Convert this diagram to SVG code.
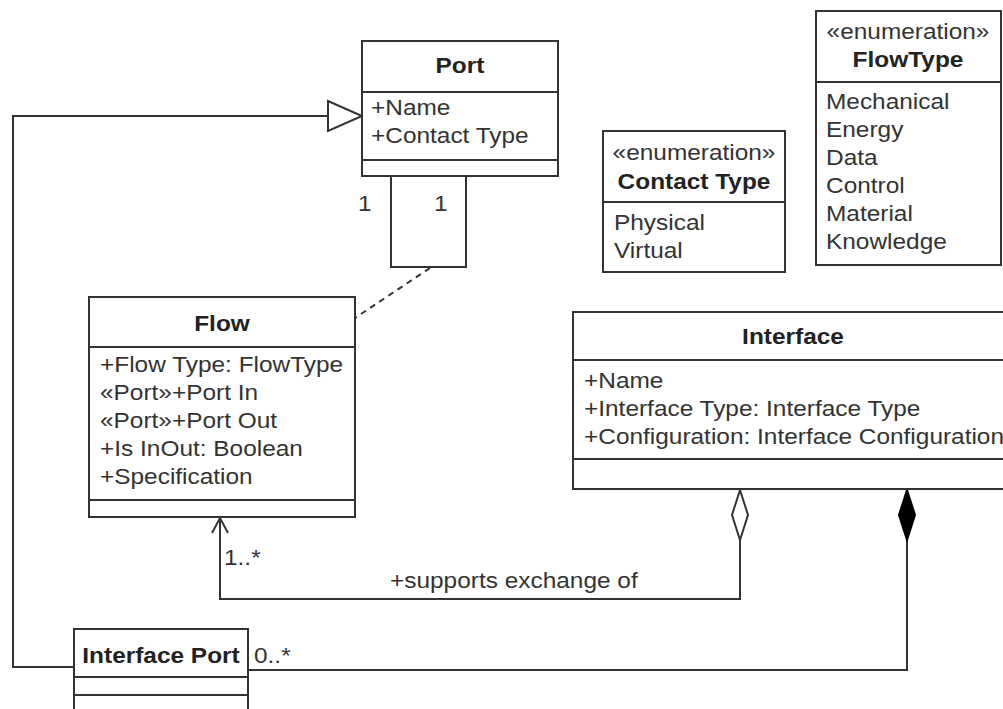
<svg xmlns="http://www.w3.org/2000/svg" width="1003" height="709" viewBox="0 0 1003 709">
<style>
.box{fill:#fff;stroke:#333;stroke-width:2}
.sep{stroke:#333;stroke-width:2}
.ln{fill:none;stroke:#333;stroke-width:2}
text{font-family:"Liberation Sans",Arial,sans-serif;font-size:22px;fill:#333}
.t{font-weight:bold;text-anchor:middle;fill:#222}
.c{text-anchor:middle}
</style>
<g id="connectors">
<polyline class="ln" points="74,667 13,667 13,116 328,116"/>
<polygon points="328,101 362,116 328,131" fill="#fff" stroke="#333" stroke-width="2"/>
<polyline class="ln" points="391,176 391,267 466,267 466,176"/>
<line x1="430" y1="268" x2="355" y2="318" stroke="#333" stroke-width="2" stroke-dasharray="6,5"/>
<polyline class="ln" points="740,540 740,599 220,599 220,518"/>
<polyline class="ln" points="212,533 220,518 228,533"/>
<polygon points="740,490 748,515 740,540 732,515" fill="#fff" stroke="#333" stroke-width="2"/>
<polyline class="ln" points="907,540 907,670 248,670"/>
<polygon points="907,490 915,515 907,540 899,515" fill="#000" stroke="#000" stroke-width="2"/>
<text transform="translate(358,211) scale(1.11,1)">1</text>
<text transform="translate(434,211) scale(1.11,1)">1</text>
<text transform="translate(224,565) scale(1.11,1)">1..*</text>
<text transform="translate(390,588) scale(1.11,1)">+supports exchange of</text>
<text transform="translate(254,663) scale(1.11,1)">0..*</text>
</g>
<g id="port">
<rect class="box" x="362" y="41" width="196" height="135"/>
<line class="sep" x1="362" y1="92" x2="558" y2="92"/>
<line class="sep" x1="362" y1="160" x2="558" y2="160"/>
<text class="t" transform="translate(460,73) scale(1.11,1)">Port</text>
<text transform="translate(371,115) scale(1.11,1)">+Name</text>
<text transform="translate(371,143) scale(1.11,1)">+Contact Type</text>
</g>
<g id="flow">
<rect class="box" x="89" y="297" width="266" height="220"/>
<line class="sep" x1="89" y1="347" x2="355" y2="347"/>
<line class="sep" x1="89" y1="500" x2="355" y2="500"/>
<text class="t" transform="translate(222,331) scale(1.11,1)">Flow</text>
<text transform="translate(100,372) scale(1.11,1)">+Flow Type: FlowType</text>
<text transform="translate(100,400) scale(1.11,1)">«Port»+Port In</text>
<text transform="translate(100,428) scale(1.11,1)">«Port»+Port Out</text>
<text transform="translate(100,456) scale(1.11,1)">+Is InOut: Boolean</text>
<text transform="translate(100,484) scale(1.11,1)">+Specification</text>
</g>
<g id="interface">
<rect class="box" x="573" y="312" width="440" height="177"/>
<line class="sep" x1="573" y1="360" x2="1013" y2="360"/>
<line class="sep" x1="573" y1="459" x2="1013" y2="459"/>
<text class="t" transform="translate(793,344) scale(1.11,1)">Interface</text>
<text transform="translate(584,388) scale(1.11,1)">+Name</text>
<text transform="translate(584,416) scale(1.11,1)">+Interface Type: Interface Type</text>
<text transform="translate(584,444) scale(1.11,1)">+Configuration: Interface Configuration</text>
</g>
<g id="interface-port">
<rect class="box" x="74" y="629" width="174" height="100"/>
<line class="sep" x1="74" y1="677" x2="248" y2="677"/>
<line class="sep" x1="74" y1="695" x2="248" y2="695"/>
<text class="t" transform="translate(161,663) scale(1.11,1)">Interface Port</text>
</g>
<g id="contact-type">
<rect class="box" x="603" y="131" width="182" height="141"/>
<line class="sep" x1="603" y1="202" x2="785" y2="202"/>
<text class="c" transform="translate(694,160) scale(1.11,1)">«enumeration»</text>
<text class="t" transform="translate(694,189) scale(1.11,1)">Contact Type</text>
<text transform="translate(614,230) scale(1.11,1)">Physical</text>
<text transform="translate(614,258) scale(1.11,1)">Virtual</text>
</g>
<g id="flowtype">
<rect class="box" x="816" y="11" width="185" height="254"/>
<line class="sep" x1="816" y1="82" x2="1001" y2="82"/>
<text class="c" transform="translate(908,39) scale(1.11,1)">«enumeration»</text>
<text class="t" transform="translate(908,67) scale(1.11,1)">FlowType</text>
<text transform="translate(826,109) scale(1.11,1)">Mechanical</text>
<text transform="translate(826,137) scale(1.11,1)">Energy</text>
<text transform="translate(826,165) scale(1.11,1)">Data</text>
<text transform="translate(826,193) scale(1.11,1)">Control</text>
<text transform="translate(826,221) scale(1.11,1)">Material</text>
<text transform="translate(826,249) scale(1.11,1)">Knowledge</text>
</g>
</svg>
